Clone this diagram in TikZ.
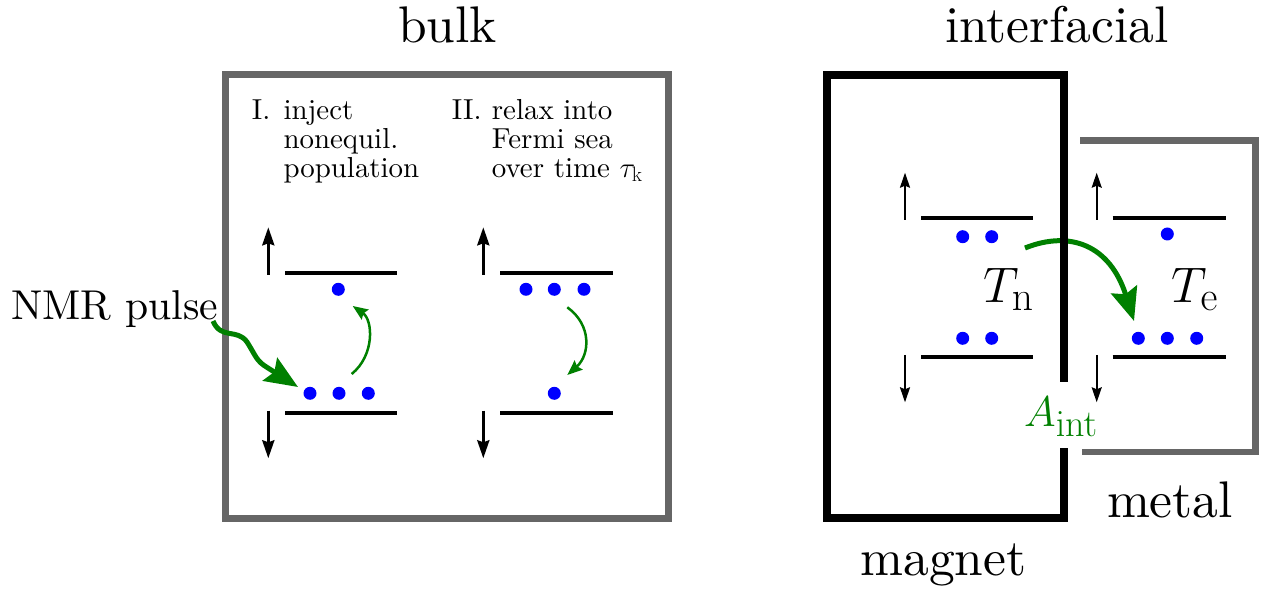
\documentclass[tikz,border=0pt]{standalone}
\usepackage{fix-cm}
\usetikzlibrary{arrows.meta}
\DeclareFontFamily{TU}{lmten}{}
\DeclareFontShape{TU}{lmten}{m}{n}{<-> "[lmroman10-regular]:+tlig;"}{}
\DeclareMathSizes{50}{50}{41.5}{34.5}
\DeclareMathSizes{43}{43}{38}{30}
\DeclareMathSizes{28.9}{28.9}{21}{14.4}
\definecolor{boxgray}{RGB}{102,102,102}
\definecolor{pgreen}{RGB}{0,128,0}
\definecolor{pblue}{RGB}{0,0,255}
\tikzset{
  titlefont/.style={font=\fontfamily{lmten}\fontsize{51.5}{52}\selectfont, inner sep=0pt},
  tempfont/.style={font=\fontsize{50}{50}\selectfont, inner sep=0pt},
  afont/.style={font=\fontsize{43}{43}\selectfont, inner sep=0pt},
  bigfont/.style={font=\fontfamily{lmten}\fontsize{41.7}{42}\selectfont, inner sep=0pt},
  smallfont/.style={font=\fontfamily{lmten}\fontsize{28.9}{29}\selectfont, inner sep=0pt},
  lvl/.style={line width=4pt},
  dot/.style={circle, fill=pblue, inner sep=0pt, minimum size=13pt},
  spinarrow/.style={line width=3pt, -{Stealth[length=18pt,width=12pt,inset=2pt]}},
  spinthin/.style={line width=2pt, -{Stealth[length=15pt,width=10pt,inset=2pt]}},
  greenthin/.style={draw=pgreen, line width=2.5pt, -{Stealth[length=15pt,width=12pt,inset=2pt]}, fill=none},
  greenthick/.style={draw=pgreen, line width=5pt, -{Stealth[length=33pt,width=27pt,inset=5pt]}},
  graybox/.style={draw=boxgray, line width=7pt, line join=miter},
  blackbox/.style={draw=black, line width=8pt, line join=miter},
  metalbox/.style={draw=boxgray, line width=6.5pt, line join=miter},
}
\begin{document}
\begin{tikzpicture}[x=1pt,y=-1pt]
\useasboundingbox (0,0) rectangle (1269,593);

% ---------- titles ----------
\node[titlefont, anchor=base] (bulk) at (447.5,43) {bulk};
\node[titlefont, anchor=base] (interf) at (1057,43) {interfacial};
\node[titlefont, anchor=base] (magnet) at (943.5,575) {magnet};
\node[titlefont, anchor=base] (metal) at (1170,517.3) {metal};

% ---------- bulk box ----------
\draw[graybox] (225.7,75) rectangle (668,518);

% step texts
\node[smallfont, anchor=base west] (s1) at (251.7,119.3) {I.};
\node[smallfont, anchor=base west] (s1a) at (283.3,119.3) {inject};
\node[smallfont, anchor=base west] (s1b) at (283.3,148.3) {nonequil.};
\node[smallfont, anchor=base west] (s1c) at (283.3,177.3) {population};
\node[smallfont, anchor=base west] (s2) at (451.7,119.3) {II.};
\node[smallfont, anchor=base west] (s2a) at (491.7,119.3) {relax into};
\node[smallfont, anchor=base west] (s2b) at (491.7,148.3) {Fermi sea};
\node[smallfont, anchor=base west] (s2c) at (491.7,177.3) {over time $\tau_{\mathrm{k}}$};

% NMR pulse label
\node[bigfont, anchor=base west] (nmr) at (11,319.3) {NMR pulse};

% left panel levels
\draw[lvl] (285,272.7) -- (396.7,272.7);
\draw[lvl] (285,412.7) -- (396.7,412.7);
\coordinate (aU1s) at (268.3,275);
\coordinate (aU1e) at (268.3,227.3);
\coordinate (aD1s) at (268.3,410.7);
\coordinate (aD1e) at (268.3,458.3);
\draw[spinarrow] (aU1s) -- (aU1e);
\draw[spinarrow] (aD1s) -- (aD1e);
\node[dot] (p1) at (338.3,289.3) {};
\node[dot] (p2) at (310,393.3) {};
\node[dot] (p3) at (339,393.3) {};
\node[dot] (p4) at (368.3,393.3) {};
\coordinate (g1s) at (351.7,374);
\coordinate (g1e) at (352.7,306);
\draw[greenthin] (g1s) .. controls (375,355) and (373,320) .. (g1e);

% NMR wavy arrow
\coordinate (w0) at (213,321);
\coordinate (w1) at (247,342);
\coordinate (w2) at (268,368);
\coordinate (w3) at (298,387);
\draw[greenthick] (w0) .. controls (221,340) and (237,328) .. (w1)
   .. controls (256,356) and (256,361) .. (w2) -- (w3);

% right panel levels (bulk)
\draw[lvl] (500,272.7) -- (612.7,272.7);
\draw[lvl] (500,412.7) -- (612.7,412.7);
\coordinate (aU2s) at (483.3,275);
\coordinate (aU2e) at (483.3,227.3);
\coordinate (aD2s) at (483.3,410.7);
\coordinate (aD2e) at (483.3,458.3);
\draw[spinarrow] (aU2s) -- (aU2e);
\draw[spinarrow] (aD2s) -- (aD2e);
\node[dot] (q1) at (526,289.3) {};
\node[dot] (q2) at (554.3,289.3) {};
\node[dot] (q3) at (584,289.3) {};
\node[dot] (q4) at (554.3,393.3) {};
\coordinate (g2s) at (567.3,307.3);
\coordinate (g2e) at (567.3,375);
\draw[greenthin] (g2s) .. controls (592,325) and (590,355) .. (g2e);

% ---------- interfacial ----------
% magnet levels
\draw[lvl] (921,217.7) -- (1033.3,217.7);
\draw[lvl] (921,357.3) -- (1033.3,357.3);
\coordinate (aU3s) at (905,220);
\coordinate (aU3e) at (905,172.7);
\coordinate (aD3s) at (905,355);
\coordinate (aD3e) at (905,402.3);
\draw[spinthin] (aU3s) -- (aU3e);
\draw[spinthin] (aD3s) -- (aD3e);
\node[dot] (m1) at (962.7,236.7) {};
\node[dot] (m2) at (991.7,236.7) {};
\node[dot] (m3) at (962.7,338.3) {};
\node[dot] (m4) at (991.7,338.3) {};

% metal levels
\draw[lvl] (1112.7,217.7) -- (1225.7,217.7);
\draw[lvl] (1112.7,357.3) -- (1225.7,357.3);
\coordinate (aU4s) at (1096.7,220);
\coordinate (aU4e) at (1096.7,172.7);
\coordinate (aD4s) at (1096.7,355);
\coordinate (aD4e) at (1096.7,402.3);
\draw[spinthin] (aU4s) -- (aU4e);
\draw[spinthin] (aD4s) -- (aD4e);
\node[dot] (e1) at (1167.3,234) {};
\node[dot] (e2) at (1138.3,338.3) {};
\node[dot] (e3) at (1167.3,338.3) {};
\node[dot] (e4) at (1196.7,338.3) {};

% temperatures
\node[tempfont, anchor=base west] (Tn) at (983,302.7) {$T_{\mathrm{n}}$};
\node[tempfont, anchor=base west] (Te) at (1171.7,302.7) {$T_{\mathrm{e}}$};

% transfer arrow
\coordinate (ts) at (1025,248);
\coordinate (te) at (1134,321);
\draw[greenthick] (ts) .. controls (1070,230) and (1110,245) .. (te);

% A_int
\node[afont, anchor=base west, text=pgreen] (Aint) at (1024,426.7) {$A_{\mathrm{int}}$};

% boxes
\draw[metalbox] (1080,140.5) -- (1255.5,140.5) -- (1255.5,452) -- (1082,452);
\draw[blackbox] (1064,382) -- (1064,75.5) -- (826.7,75.5) -- (826.7,518) -- (1064,518) -- (1064,448);
\end{tikzpicture}
\end{document}
